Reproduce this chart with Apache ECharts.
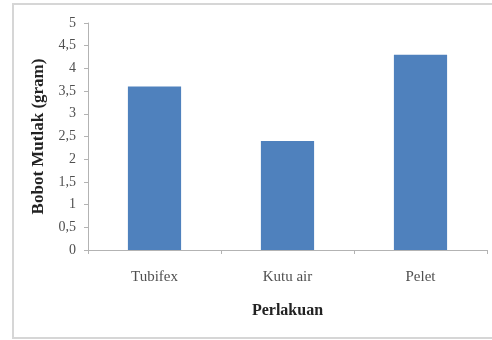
<!DOCTYPE html>
<html>
<head>
<meta charset="utf-8">
<script src="https://cdn.jsdelivr.net/npm/echarts@6/dist/echarts.min.js"></script>
<style>
  html, body { margin: 0; padding: 0; background: #fff; }
  #chart { width: 492px; height: 340px; }
</style>
</head>
<body>
<div id="chart"></div>
<script>
// Absolute weight gain per feed treatment
const categories = ['Tubifex', 'Kutu air', 'Pelet'];
const weights = [3.6, 2.4, 4.3];
const yTickLabels = ['0', '0,5', '1', '1,5', '2', '2,5', '3', '3,5', '4', '4,5', '5'];

const font = '"Liberation Serif", "Times New Roman", serif';
const chart = echarts.init(document.getElementById('chart'), null, { renderer: 'canvas' });

chart.setOption({
  animation: false,
  backgroundColor: '#ffffff',
  graphic: [{
    type: 'rect',
    shape: { x: 13, y: 4, width: 500, height: 334 },
    style: { fill: 'none', stroke: '#d6d6d6', lineWidth: 2 },
    silent: true,
    z: -1
  }],
  grid: { left: 88, right: 5, top: 23, bottom: 90 },
  xAxis: {
    type: 'category',
    data: categories,
    name: 'Perlakuan',
    nameLocation: 'middle',
    nameGap: 53,
    nameTextStyle: { fontFamily: font, fontSize: 16, fontWeight: 'bold', color: '#222' },
    axisLine: { lineStyle: { color: '#b3b3b3', width: 1 } },
    axisTick: { show: true, alignWithLabel: false, length: 4, lineStyle: { color: '#b3b3b3' } },
    axisLabel: { fontFamily: font, fontSize: 15, color: '#505050', margin: 20 }
  },
  yAxis: {
    type: 'value',
    min: 0,
    max: 5,
    interval: 0.5,
    name: 'Bobot Mutlak (gram)',
    nameLocation: 'middle',
    nameGap: 41,
    nameTextStyle: { fontFamily: font, fontSize: 17, fontWeight: 'bold', color: '#222' },
    axisLine: { show: true, lineStyle: { color: '#b3b3b3', width: 1 } },
    axisTick: { show: true, length: 4, lineStyle: { color: '#b3b3b3' } },
    splitLine: { show: false },
    axisLabel: {
      fontFamily: font, fontSize: 14, color: '#505050', margin: 12,
      formatter: function (v) { return yTickLabels[Math.round(v * 2)]; }
    }
  },
  series: [{
    type: 'bar',
    data: weights,
    barWidth: '40%',
    itemStyle: { color: '#4f81bd' }
  }]
});
</script>
</body>
</html>
